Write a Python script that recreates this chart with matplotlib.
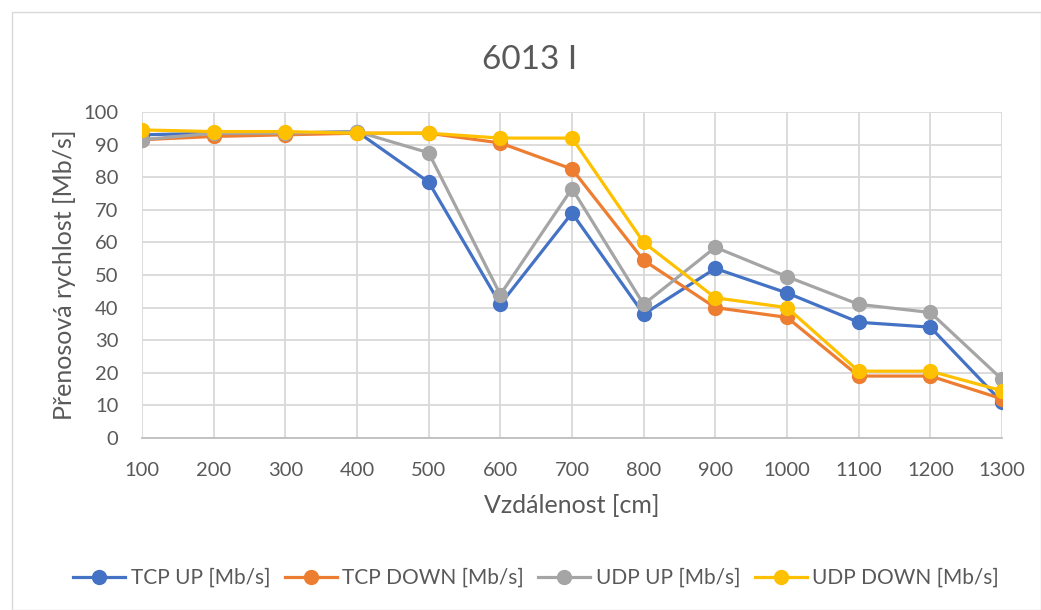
import numpy as np
import matplotlib.pyplot as plt
from matplotlib.patches import Rectangle

plt.rcParams['font.family'] = ['Lato', 'DejaVu Sans']

x = [100, 200, 300, 400, 500, 600, 700, 800, 900, 1000, 1100, 1200, 1300]
tcp_up = [93, 93.5, 93.5, 94, 78.5, 41, 69, 38, 52, 44.5, 35.5, 34, 11]
tcp_down = [91.5, 92.5, 93, 93.5, 93.5, 90.5, 82.5, 54.5, 40, 37, 19, 19, 12]
udp_up = [91.5, 93.5, 93.5, 94, 87.5, 44, 76.5, 41, 58.5, 49.5, 41, 38.5, 18]
udp_down = [94.5, 94, 94, 93.5, 93.5, 92, 92, 60, 43, 40, 20.5, 20.5, 14.5]

series = [
    ("TCP UP [Mb/s]", tcp_up, "#4472C4"),
    ("TCP DOWN [Mb/s]", tcp_down, "#ED7D31"),
    ("UDP UP [Mb/s]", udp_up, "#A5A5A5"),
    ("UDP DOWN [Mb/s]", udp_down, "#FFC000"),
]

fig = plt.figure(figsize=(10.41, 6.10), dpi=100)
fig.patches.append(Rectangle((12/1041, 0), 1 - 12/1041, 1 - 12/610, transform=fig.transFigure,
                             fill=False, edgecolor="#d9d9d9", linewidth=1))
ax = fig.add_axes([142/1041, 1 - 438/610, 860/1041, 326/610])

for name, vals, c in series:
    ax.plot(x, vals, '-o', color=c, lw=2.3, ms=10, label=name)

ax.set_xlim(100, 1300)
ax.set_ylim(0, 100)
ax.set_xticks(x)
ax.set_yticks(np.arange(0, 101, 10))
ax.grid(True, color="#d9d9d9", lw=1.3)
ax.set_axisbelow(True)
for s in ['top', 'right', 'left']:
    ax.spines[s].set_visible(False)
ax.spines['bottom'].set_color("#bfbfbf")
ax.spines['bottom'].set_linewidth(1.3)
ax.tick_params(length=0, labelsize=14.5, colors="#595959", pad=17)

ax.set_xlabel("Vzdálenost [cm]", fontsize=18, color="#595959", labelpad=11)
ax.set_ylabel("Přenosová rychlost [Mb/s]", fontsize=18, color="#595959", labelpad=5)
fig.text(530/1041, 1 - 60/610, "6013 I", fontsize=24, color="#595959", ha='center', va='center')

fig.legend(loc='center', bbox_to_anchor=(536/1041, 1 - 578/610), ncol=4, frameon=False,
           fontsize=15, labelcolor="#595959", handlelength=2.5, columnspacing=0.7, handletextpad=0.25)

fig.savefig("out.png", dpi=100)
